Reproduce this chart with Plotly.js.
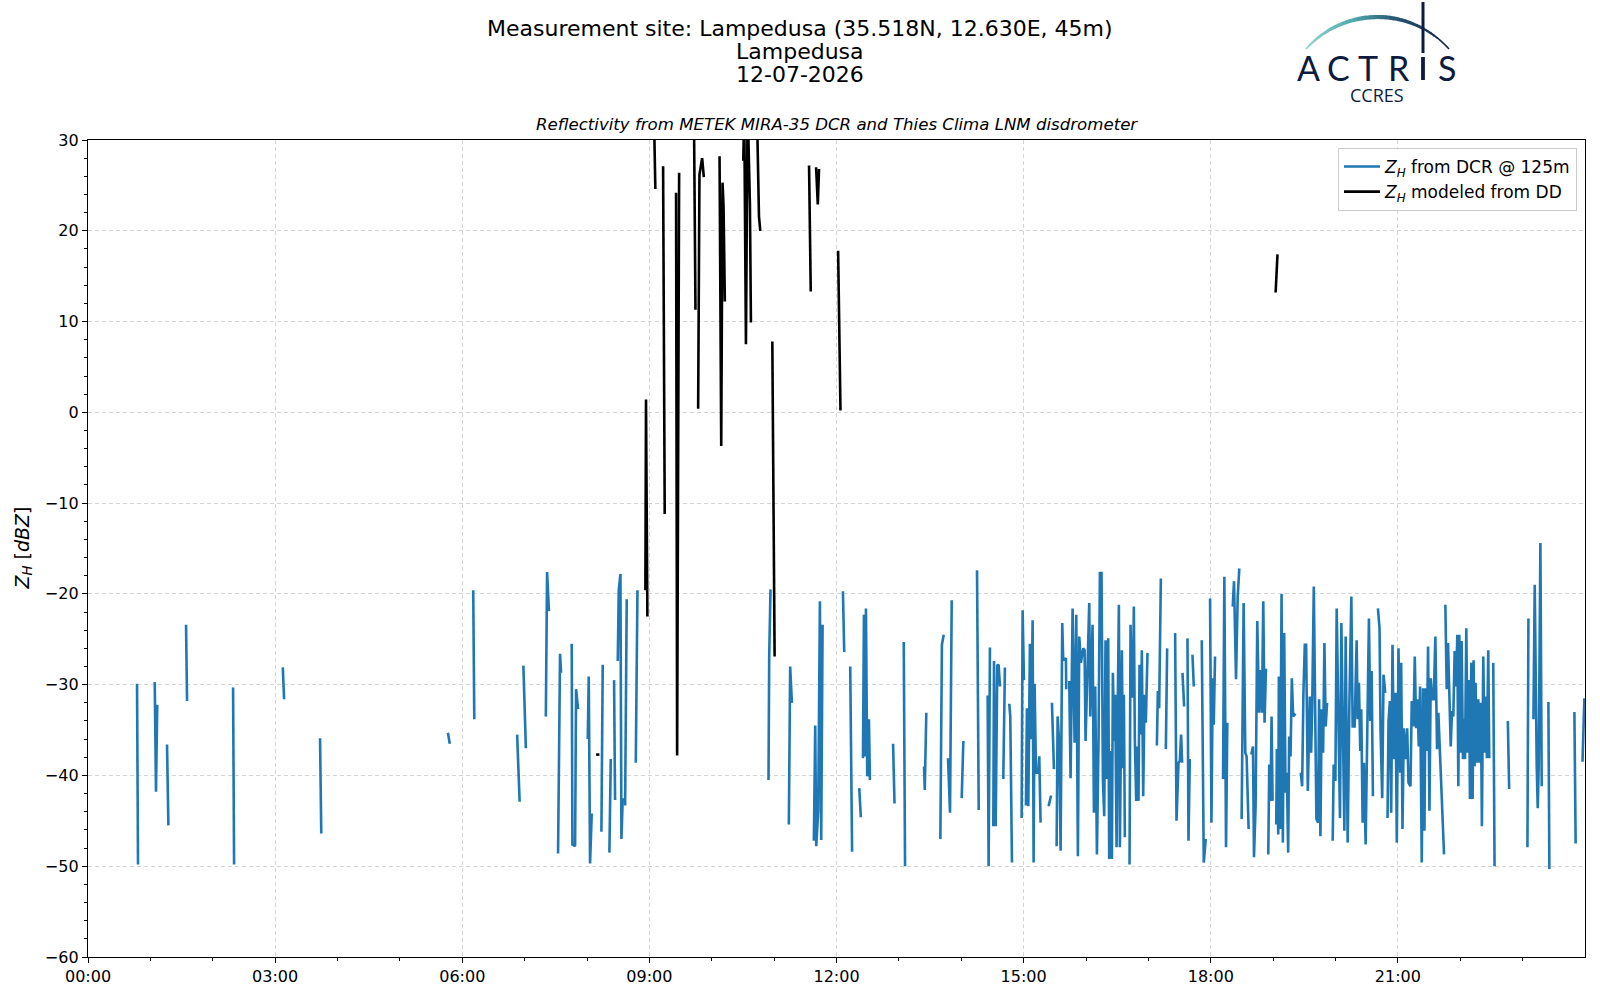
<!DOCTYPE html>
<html>
<head>
<meta charset="utf-8">
<script src="https://cdn.plot.ly/plotly-3.0.1.min.js"></script>
<style>html,body{margin:0;padding:0;background:#fff;}#chart{width:1600px;height:1000px;}</style>
</head>
<body>
<div id="chart"></div>
<script>
// ---------------- DATA ----------------
const titleLines = ["Measurement site: Lampedusa (35.518N, 12.630E, 45m)", "Lampedusa", "12-07-2026"];
const subTitle = "Reflectivity from METEK MIRA-35 DCR and Thies Clima LNM disdrometer";
const tickHours = [0, 3, 6, 9, 12, 15, 18, 21];
const tickLabels = ["00:00", "03:00", "06:00", "09:00", "12:00", "15:00", "18:00", "21:00"];
const seriesNames = ["<i>Z</i><sub><i>H</i></sub> from DCR @ 125m", "<i>Z</i><sub><i>H</i></sub> modeled from DD"];

// DCR reflectivity at 125 m: [hour of day, dBZ]; null = data gap
const dcrZH = [
 [0.786,-29.9],[0.802,-49.8],null,
 [1.07,-29.7],[1.09,-41.8],[1.11,-32.2],null,
 [1.267,-36.6],[1.289,-45.5],null,
 [1.572,-23.4],[1.588,-31.8],null,
 [2.326,-30.3],[2.342,-49.8],null,
 [3.123,-28.1],[3.144,-31.6],null,
 [3.72,-35.9],[3.74,-46.4],null,
 [5.77,-35.3],[5.80,-36.5],null,
 [6.176,-19.6],[6.193,-33.8],null,
 [6.88,-35.5],[6.92,-42.9],null,
 [6.98,-27.9],[7.02,-37.0],null,
 [7.34,-33.5],[7.36,-17.6],[7.39,-21.9],null,
 [7.536,-48.6],[7.568,-26.6],[7.584,-28.7],null,
 [7.755,-25.5],[7.766,-47.6],[7.809,-47.8],[7.825,-30.5],[7.857,-32.7],null,
 [8.012,-36.0],[8.028,-29.1],[8.049,-49.7],[8.076,-44.2],null,
 [8.231,-46.2],[8.252,-27.8],null,
 [8.359,-48.5],[8.381,-38.2],null,
 [8.434,-29.5],[8.450,-42.7],null,
 [8.493,-27.4],[8.509,-19.6],[8.536,-17.8],[8.552,-47.0],[8.573,-42.5],null,
 [8.611,-43.3],[8.637,-20.6],null,
 [8.782,-38.6],[8.809,-19.6],null,
 [10.910,-40.5],[10.921,-26.9],[10.942,-19.5],null,
 [11.236,-45.4],[11.257,-28.0],[11.285,-32.0],null,
 [11.637,-47.2],[11.659,-34.5],[11.675,-47.8],[11.707,-43.9],[11.734,-20.8],[11.755,-47.1],[11.777,-23.4],null,
 [12.103,-19.7],[12.124,-26.4],null,
 [12.22,-28.0],[12.25,-48.4],null,
 [12.365,-41.4],[12.39,-44.6],null,
 [12.424,-38.1],[12.440,-22.3],[12.456,-37.9],[12.472,-21.6],[12.493,-40.1],[12.520,-33.8],[12.536,-40.5],null,
 [12.907,-36.5],[12.93,-43.1],null,
 [13.078,-25.3],[13.099,-50.0],null,
 [13.404,-39.0],[13.415,-41.6],[13.44,-33.1],null,
 [13.665,-47.0],[13.69,-25.6],[13.719,-24.5],null,
 [13.788,-38.1],[13.82,-44.1],[13.847,-20.7],null,
 [14.007,-42.5],[14.034,-36.2],null,
 [14.253,-17.4],[14.28,-43.8],null,
 [14.423,-31.2],[14.439,-50.0],[14.46,-25.9],null,
 [14.514,-45.6],[14.525,-27.4],[14.552,-45.6],[14.578,-27.8],[14.6,-27.9],[14.621,-30.2],null,
 [14.674,-40.4],[14.70,-28.1],null,
 [14.77,-32.1],[14.786,-33.5],[14.813,-49.6],null,
 [14.968,-44.7],[14.984,-21.8],[15.005,-29.5],null,
 [15.037,-43.3],[15.053,-32.6],[15.075,-43.4],[15.101,-25.5],[15.123,-36.0],[15.144,-22.9],[15.16,-49.6],[15.176,-29.9],[15.198,-39.7],[15.235,-39.7],[15.251,-37.9],[15.272,-45.2],null,
 [15.40,-43.4],[15.44,-42.2],null,
 [15.454,-32.0],[15.486,-39.3],null,
 [15.529,-47.8],[15.545,-33.5],[15.571,-36.5],[15.593,-48.3],[15.619,-23.2],[15.635,-27.3],[15.678,-27.1],[15.683,-30.5],null,
 [15.731,-29.6],[15.753,-40.3],[15.785,-21.6],[15.817,-36.4],[15.844,-22.3],[15.870,-48.9],[15.892,-24.7],[15.918,-27.6],[15.956,-26.0],[15.977,-26.2],
 [15.993,-36.2],[16.025,-26.2],[16.052,-21.0],[16.068,-33.5],[16.105,-23.4],[16.127,-44.1],[16.148,-30.2],[16.175,-48.7],[16.201,-36.0],[16.223,-17.7],
 [16.249,-17.7],[16.271,-40.4],[16.292,-44.5],[16.313,-25.1],[16.335,-40.4],[16.356,-24.9],[16.372,-49.2],[16.393,-37.3],[16.415,-49.2],[16.431,-28.7],
 [16.452,-36.2],[16.468,-31.1],[16.490,-47.9],[16.511,-31.1],[16.527,-21.2],[16.543,-47.9],[16.559,-39.2],[16.575,-26.2],[16.591,-39.2],[16.607,-31.1],[16.623,-46.8],null,
 [16.698,-49.8],[16.714,-23.4],[16.735,-31.3],[16.751,-31.3],[16.767,-21.4],[16.783,-36.0],[16.805,-42.8],[16.821,-36.8],[16.842,-42.8],[16.858,-27.8],
 [16.879,-35.5],[16.895,-26.2],[16.917,-42.3],[16.938,-31.1],[16.959,-34.2],[16.986,-26.5],null,
 [17.136,-36.7],[17.152,-30.7],[17.173,-32.6],[17.200,-18.3],null,
 [17.280,-37.1],[17.301,-26.0],null,
 [17.429,-24.3],[17.451,-45.0],[17.483,-38.6],[17.504,-38.4],[17.525,-35.5],[17.541,-38.6],null,
 [17.547,-28.7],[17.573,-32.4],null,
 [17.627,-24.9],[17.643,-47.2],[17.664,-38.2],null,
 [17.707,-26.7],[17.728,-30.2],null,
 [17.856,-25.1],[17.888,-49.6],[17.920,-47.0],null,
 [17.989,-20.5],[18.011,-45.2],[18.032,-29.3],[18.048,-34.4],[18.069,-26.9],null,
 [18.197,-40.4],[18.218,-18.1],[18.245,-47.9],[18.266,-34.2],null,
 [18.352,-21.4],[18.373,-18.6],[18.405,-29.4],[18.432,-20.3],[18.458,-17.2],null,
 [18.495,-44.8],[18.511,-35.7],[18.527,-21.0],[18.554,-37.5],[18.575,-37.9],[18.607,-45.9],null,
 [18.650,-37.7],[18.677,-36.8],[18.693,-49.0],[18.719,-43.4],[18.746,-23.0],[18.773,-33.1],[18.794,-28.4],[18.820,-33.1],[18.842,-20.8],[18.863,-34.2],[18.884,-28.4],[18.906,-28.4],null,
 [18.922,-48.7],[18.938,-38.8],[18.959,-42.8],[18.975,-33.5],[18.991,-42.8],null,
 [19.050,-45.4],[19.060,-37.1],[19.082,-46.5],[19.092,-29.1],[19.113,-45.9],[19.135,-20.0],[19.156,-47.4],[19.177,-24.3],[19.199,-41.9],[19.220,-39.7],
 [19.241,-48.5],[19.257,-35.7],[19.279,-37.9],[19.300,-29.3],[19.321,-33.5],[19.359,-33.2],null,
 [19.444,-39.7],[19.465,-41.2],[19.486,-30.9],[19.508,-25.6],[19.529,-25.6],[19.556,-41.7],[19.588,-31.3],[19.609,-37.5],[19.625,-33.1],[19.652,-19.2],
 [19.694,-44.8],[19.721,-45.2],[19.737,-31.6],[19.758,-46.7],[19.779,-32.7],[19.801,-37.5],[19.822,-25.4],[19.843,-34.6],[19.865,-32.0],null,
 [19.955,-47.2],[19.971,-38.8],[19.998,-40.6],[20.019,-21.6],[20.046,-33.5],[20.072,-44.7],[20.094,-23.2],[20.115,-34.8],[20.142,-46.1],[20.163,-24.7],
 [20.195,-47.4],[20.222,-32.4],[20.254,-20.3],[20.275,-34.6],[20.307,-34.6],[20.339,-25.1],[20.355,-33.8],[20.376,-29.8],[20.397,-37.3],[20.413,-32.7],
 [20.435,-45.2],[20.456,-38.6],[20.483,-47.6],[20.536,-22.7],[20.557,-34.0],[20.579,-28.5],[20.600,-42.3],null,
 [20.680,-21.6],[20.706,-23.8],[20.722,-34.9],[20.749,-42.5],[20.770,-28.9],[20.797,-30.9],null,
 [20.834,-44.7],[20.850,-34.0],[20.872,-31.8],[20.893,-44.1],[20.914,-25.6],[20.936,-38.2],[20.962,-30.9],[20.983,-47.4],[21.010,-26.0],[21.037,-39.7],
 [21.053,-27.6],[21.074,-45.9],[21.095,-34.8],[21.122,-38.2],[21.149,-34.8],[21.170,-40.8],[21.202,-41.2],[21.223,-31.8],[21.250,-34.6],[21.271,-26.9],
 [21.293,-34.8],[21.314,-31.6],[21.335,-36.8],[21.356,-30.2],[21.383,-49.6],[21.404,-30.4],[21.426,-46.1],[21.442,-30.4],[21.463,-37.3],[21.484,-25.8],
 [21.506,-43.9],[21.527,-29.3],[21.548,-31.6],[21.575,-31.6],[21.601,-24.7],[21.628,-37.1],[21.649,-33.1],[21.692,-41.2],[21.740,-48.7],null,
 [21.761,-21.2],[21.783,-30.5],[21.804,-25.4],[21.825,-30.9],[21.847,-36.8],[21.868,-32.9],[21.889,-33.5],[21.910,-26.3],[21.932,-30.2],[21.953,-24.5],
 [21.969,-41.2],[21.985,-24.5],[22.006,-37.5],[22.022,-25.2],[22.044,-38.2],[22.060,-33.8],[22.076,-38.2],[22.097,-23.8],[22.118,-37.5],[22.140,-29.5],
 [22.156,-42.6],[22.177,-27.6],[22.198,-42.6],[22.214,-27.3],[22.230,-39.0],[22.246,-29.8],[22.268,-38.6],[22.289,-31.6],[22.310,-38.6],[22.331,-32.0],
 [22.347,-45.6],[22.369,-26.9],[22.390,-37.5],[22.411,-31.3],[22.427,-38.1],[22.449,-26.2],[22.465,-38.1],null,
 [22.529,-27.6],[22.550,-50.0],null,
 [22.763,-34.0],[22.784,-41.5],null,
 [23.077,-47.9],[23.093,-22.7],null,
 [23.173,-33.8],[23.194,-19.0],[23.226,-39.0],[23.242,-43.6],[23.258,-39.0],[23.285,-14.4],[23.306,-41.2],null,
 [23.413,-31.9],[23.429,-50.3],null,
 [23.83,-33.0],[23.85,-47.5],null,
 [23.96,-38.5],[23.99,-31.5]
];

// Reflectivity modeled from disdrometer DSD: [hour of day, dBZ]; values above 30 run off the top
const ddZH = [
 [8.146,-37.7],[8.199,-37.7],null,
 [8.936,-19.6],[8.946,1.4],[8.968,-22.5],null,
 [9.07,34.0],[9.096,24.6],null,
 [9.22,27.1],[9.246,-11.2],null,
 [9.428,24.2],[9.445,-37.8],[9.477,26.4],null,
 [9.712,35.0],[9.739,11.3],null,
 [9.782,0.4],[9.803,26.2],[9.846,28.0],[9.873,25.9],null,
 [10.125,28.2],[10.152,-3.7],[10.173,25.3],[10.189,22.7],[10.21,12.2],null,
 [10.505,27.7],[10.521,33.0],[10.548,7.5],[10.575,34.0],[10.612,22.9],[10.628,9.9],null,
 [10.725,33.0],[10.757,21.6],[10.778,20.0],null,
 [10.971,7.8],[11.008,-26.9],null,
 [11.56,27.2],[11.587,13.3],null,
 [11.673,27.0],[11.70,22.9],[11.72,26.8],null,
 [12.026,17.8],[12.064,0.2],null,
 [19.04,13.2],[19.07,17.4]
];

// ---------------- LAYOUT HELPERS ----------------
const FIG_W = 1600, FIG_H = 1000;
const M = {l: 88, r: 15, t: 140, b: 43};
const PW = FIG_W - M.l - M.r, PH = FIG_H - M.t - M.b;
const px2x = px => (px - M.l) / PW;
const px2y = py => (FIG_H - M.b - py) / PH;

function splitXY(pts) {
  const x = [], y = [];
  pts.forEach(p => { if (p === null) { x.push(null); y.push(null); } else { x.push(p[0]); y.push(p[1]); } });
  return {x, y};
}
const dcr = splitXY(dcrZH), dd = splitXY(ddZH);

const FONT = "DejaVu Sans, Verdana, sans-serif";
const NAVY = "#0d1b3e";

const traces = [
  {x: dcr.x, y: dcr.y, type: "scatter", mode: "lines", name: seriesNames[0],
   line: {color: "#1f77b4", width: 2.6}, connectgaps: false, hoverinfo: "skip"},
  {x: dd.x, y: dd.y, type: "scatter", mode: "lines", name: seriesNames[1],
   line: {color: "#000000", width: 2.6}, connectgaps: false, hoverinfo: "skip"}
];

// ---------------- ANNOTATIONS ----------------
const annotations = [];
const titleY = [29, 51.5, 74];
titleLines.forEach((t, i) => annotations.push({
  text: t, xref: "paper", yref: "paper", x: px2x(800), y: px2y(titleY[i]),
  xanchor: "center", yanchor: "middle", showarrow: false,
  font: {family: FONT, size: 22, color: "#000"}
}));
annotations.push({
  text: "<i>" + subTitle + "</i>", xref: "paper", yref: "paper", x: 0.5, y: px2y(125),
  xanchor: "center", yanchor: "middle", showarrow: false,
  font: {family: FONT, size: 16.6, color: "#000"}
});
annotations.push({
  text: "<i>Z</i><sub><i>H</i></sub> [<i>dBZ</i>]", xref: "paper", yref: "paper",
  x: px2x(23), y: 0.5, xanchor: "center", yanchor: "middle", textangle: -90, showarrow: false,
  font: {family: FONT, size: 19, color: "#000"}
});
// logo letters
const logoLetters = [["A", 1308], ["C", 1338], ["T", 1368], ["R", 1399], ["S", 1447]];
logoLetters.forEach(([ch, px]) => annotations.push({
  text: ch, xref: "paper", yref: "paper", x: px2x(px), y: px2y(67.5),
  xanchor: "center", yanchor: "middle", showarrow: false, borderpad: 0, height: 27, valign: "middle",
  font: {family: "Lato, Open Sans, sans-serif", size: 34, color: NAVY}
}));
annotations.push({
  text: "CCRES", xref: "paper", yref: "paper", x: px2x(1377), y: px2y(94.5),
  xanchor: "center", yanchor: "middle", showarrow: false, borderpad: 0, height: 18, valign: "middle",
  font: {family: "Open Sans, Lato, sans-serif", size: 18, color: NAVY}
});

// ---------------- LOGO SHAPES ----------------
const shapes = [];
(function () {
  const cx = 1377.5, cy = 112.9, R = 95.9;
  const a0 = 138.2 * Math.PI / 180, a1 = 41.8 * Math.PI / 180;
  const stops = [[0, [150, 214, 208]], [0.35, [80, 170, 172]], [0.6, [40, 90, 120]], [1, [13, 27, 62]]];
  function col(t) {
    for (let i = 0; i < stops.length - 1; i++) {
      if (t <= stops[i + 1][0]) {
        const f = (t - stops[i][0]) / (stops[i + 1][0] - stops[i][0]);
        const c = stops[i][1].map((v, k) => Math.round(v + f * (stops[i + 1][1][k] - v)));
        return "rgb(" + c.join(",") + ")";
      }
    }
    return "rgb(13,27,62)";
  }
  const N = 40;
  for (let i = 0; i < N; i++) {
    const t0 = i / N, t1 = (i + 1.15) / N;
    const b0 = a0 + (a1 - a0) * t0, b1 = a0 + (a1 - a0) * Math.min(1, t1);
    const x0 = cx + R * Math.cos(b0), y0 = cy - R * Math.sin(b0);
    const x1 = cx + R * Math.cos(b1), y1 = cy - R * Math.sin(b1);
    const tm = (t0 + Math.min(1, t1)) / 2;
    shapes.push({type: "line", xref: "paper", yref: "paper",
      x0: px2x(x0), y0: px2y(y0), x1: px2x(x1), y1: px2y(y1),
      line: {color: col(tm), width: 1.6 + 2.6 * Math.sin(Math.PI * Math.min(1, tm * 1.1))}});
  }
  shapes.push({type: "line", xref: "paper", yref: "paper",
    x0: px2x(1423), y0: px2y(2), x1: px2x(1423), y1: px2y(53), line: {color: NAVY, width: 3}});
  shapes.push({type: "line", xref: "paper", yref: "paper",
    x0: px2x(1423), y0: px2y(57), x1: px2x(1423), y1: px2y(80), line: {color: NAVY, width: 3.8}});
})();

// ---------------- LAYOUT ----------------
const minorX = [];
for (let h = 1; h < 24; h++) if (h % 3 !== 0) minorX.push(h);

const layout = {
  width: FIG_W, height: FIG_H,
  margin: M,
  paper_bgcolor: "#ffffff", plot_bgcolor: "#ffffff",
  font: {family: FONT, size: 16, color: "#000"},
  showlegend: true,
  legend: {
    x: px2x(1577), y: px2y(148), xanchor: "right", yanchor: "top",
    bgcolor: "rgba(255,255,255,0.85)", bordercolor: "#cccccc", borderwidth: 1,
    font: {family: FONT, size: 17, color: "#000"}, itemwidth: 36
  },
  xaxis: {
    range: [0, 24], tickmode: "array", tickvals: tickHours, ticktext: tickLabels,
    ticks: "outside", ticklen: 5, tickwidth: 1, tickcolor: "#000",
    showline: true, linecolor: "#000", linewidth: 1.2, mirror: true,
    showgrid: true, gridcolor: "#d4d4d4", gridwidth: 1, griddash: "4px,3px",
    zeroline: false, tickfont: {family: FONT, size: 16, color: "#000"},
    minor: {tickmode: "array", tickvals: minorX, ticks: "outside", ticklen: 3, tickwidth: 1, tickcolor: "#000", showgrid: false}
  },
  yaxis: {
    range: [-60, 30], tickmode: "linear", tick0: -60, dtick: 10,
    ticks: "outside", ticklen: 5, tickwidth: 1, tickcolor: "#000",
    showline: true, linecolor: "#000", linewidth: 1.2, mirror: true,
    showgrid: true, gridcolor: "#d4d4d4", gridwidth: 1, griddash: "4px,3px",
    zeroline: false, tickfont: {family: FONT, size: 16, color: "#000"},
    minor: {dtick: 2, ticks: "outside", ticklen: 3, tickwidth: 1, tickcolor: "#000", showgrid: false}
  },
  annotations: annotations,
  shapes: shapes
};

Plotly.newPlot("chart", traces, layout, {displayModeBar: false, staticPlot: true});
</script>
</body>
</html>
